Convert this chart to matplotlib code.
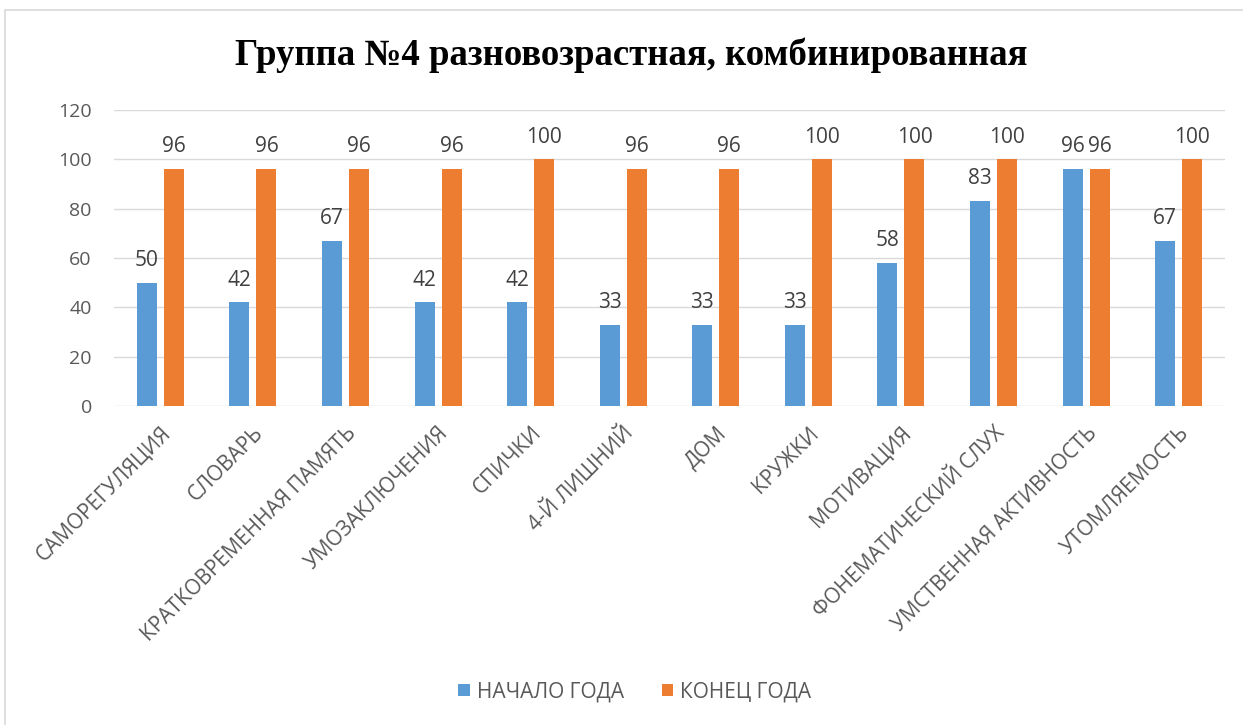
import matplotlib.pyplot as plt
import numpy as np

categories = ['САМОРЕГУЛЯЦИЯ', 'СЛОВАРЬ', 'КРАТКОВРЕМЕННАЯ ПАМЯТЬ', 'УМОЗАКЛЮЧЕНИЯ',
              'СПИЧКИ', '4-Й ЛИШНИЙ', 'ДОМ', 'КРУЖКИ', 'МОТИВАЦИЯ',
              'ФОНЕМАТИЧЕСКИЙ СЛУХ', 'УМСТВЕННАЯ АКТИВНОСТЬ', 'УТОМЛЯЕМОСТЬ']
start_year = [50, 42, 67, 42, 42, 33, 33, 33, 58, 83, 96, 67]
end_year = [96, 96, 96, 96, 100, 96, 96, 100, 100, 100, 96, 100]
series_names = ['НАЧАЛО ГОДА', 'КОНЕЦ ГОДА']

blue = '#5b9bd5'
orange = '#ed7d31'
grey = '#595959'

plt.rcParams['font.family'] = ['Open Sans', 'DejaVu Sans']

fig = plt.figure(figsize=(12.43, 7.25), dpi=100)
ax = fig.add_axes([114 / 1243, 1 - 406 / 725, (1225 - 114) / 1243, (406 - 110) / 725])

x = np.arange(len(categories))
w = 0.216
off = 0.146
b1 = ax.bar(x - off, start_year, w, color=blue, label=series_names[0], zorder=3)
b2 = ax.bar(x + off, end_year, w, color=orange, label=series_names[1], zorder=3)

for bars in (b1, b2):
    for r in bars:
        ax.annotate(str(int(r.get_height())), (r.get_x() + r.get_width() / 2, r.get_height()),
                    xytext=(0, 8.5), textcoords='offset points',
                    ha='center', va='bottom', fontsize=15, color='#404040')

ax.set_xlim(-0.5, len(categories) - 0.5)
ax.set_ylim(0, 120)
ax.set_yticks(range(0, 121, 20))
ax.grid(axis='y', color='#d9d9d9', linewidth=1, zorder=0)
for s in ax.spines.values():
    s.set_visible(False)
ax.tick_params(length=0, colors=grey, labelsize=14)
ax.tick_params(axis='y', pad=16)
ax.tick_params(axis='x', pad=12)
ax.set_xticks(x)
ax.set_xticklabels(categories, rotation=45, ha='right', rotation_mode='anchor', fontsize=15)

fig.text(631 / 1243, 1 - 55 / 725, 'Группа №4 разновозрастная, комбинированная', ha='center', va='center',
         fontsize=26.5, fontweight='bold', family='Liberation Serif')

fig.legend(handles=[b1, b2], loc='center', bbox_to_anchor=(635 / 1243, 1 - 692 / 725), ncol=2, frameon=False,
           fontsize=15, labelcolor=grey, handlelength=0.55, handleheight=0.55, columnspacing=1.8,
           handletextpad=0.35)

fig.patches.append(plt.Rectangle((5 / 1243, -0.01), 1.02, 1 - 3 / 725, transform=fig.transFigure,
                                 fill=False, edgecolor='#d9d9d9', linewidth=1.2))

fig.savefig('out.png', dpi=100)
